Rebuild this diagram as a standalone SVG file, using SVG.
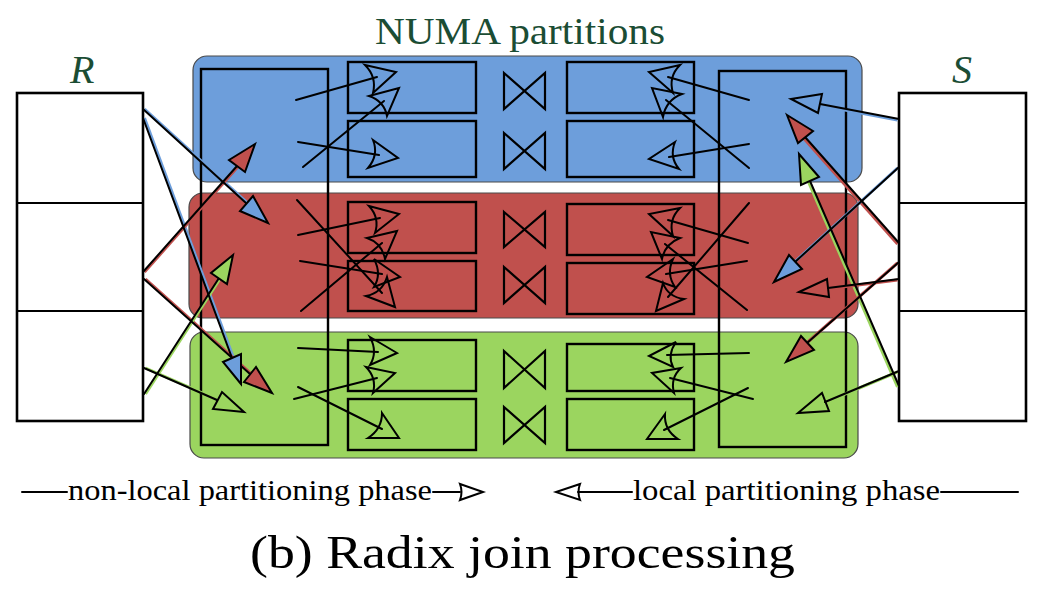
<svg xmlns="http://www.w3.org/2000/svg" width="1044" height="591" viewBox="0 0 1044 591">
<style>
.k{stroke:#000;stroke-width:2;fill:none;stroke-linecap:round}
.box{fill:none;stroke:#000;stroke-width:2.4}
.tbl{fill:#fff;stroke:#000;stroke-width:2.6}
.band{stroke:#4a4a4a;stroke-width:1.2}
.hd{stroke:#000;stroke-width:2;stroke-linejoin:miter;fill:none}
.bt{stroke:#000;stroke-width:2.2;fill:none;stroke-linejoin:miter}
.cb{stroke:#6d9edb;stroke-width:3;fill:none}
.cr{stroke:#c0504d;stroke-width:3;fill:none}
.cg{stroke:#9bd55f;stroke-width:3;fill:none}
.lbl{font-family:'Liberation Serif','Times New Roman',Times,serif;fill:#1b4d34}
.txt{font-family:'Liberation Serif','Times New Roman',Times,serif;fill:#000}
</style>

<g id="band-blue"><rect class="band" x="193" y="56" width="669" height="126" rx="14" fill="#6d9edb"/></g>
<g id="band-red"><rect class="band" x="189" y="193" width="669" height="125" rx="14" fill="#c0504d"/></g>
<g id="band-green"><rect class="band" x="190" y="332" width="668" height="126" rx="14" fill="#9bd55f"/></g>

<g id="partition-left"><rect class="box" x="201" y="69" width="127" height="376"/></g>
<g id="partition-right"><rect class="box" x="719" y="71" width="127" height="376"/></g>

<g id="buckets">
<rect class="box" x="348" y="62" width="128" height="51"/>
<rect class="box" x="348" y="121" width="128" height="56"/>
<rect class="box" x="567" y="62" width="127" height="51"/>
<rect class="box" x="567" y="121" width="127" height="56"/>
<rect class="box" x="348" y="202" width="128" height="51"/>
<rect class="box" x="348" y="261" width="128" height="50"/>
<rect class="box" x="567" y="204" width="127" height="51"/>
<rect class="box" x="567" y="263" width="127" height="51"/>
<rect class="box" x="348" y="340" width="128" height="51"/>
<rect class="box" x="348" y="399" width="128" height="51"/>
<rect class="box" x="567" y="344" width="127" height="47"/>
<rect class="box" x="567" y="399" width="127" height="51"/>
</g>

<g id="joins">
<path class="bt" d="M504,73 L545,109 L545,73 L504,109 Z"/>
<path class="bt" d="M504,133 L545,169 L545,133 L504,169 Z"/>
<path class="bt" d="M504,212 L545,247 L545,212 L504,247 Z"/>
<path class="bt" d="M504,267 L545,303 L545,267 L504,303 Z"/>
<path class="bt" d="M504,351 L545,388 L545,351 L504,388 Z"/>
<path class="bt" d="M504,407 L545,443 L545,407 L504,443 Z"/>
</g>

<g id="connectors">
<line class="k" x1="296" y1="100" x2="377" y2="77"/>
<path class="hd" d="M365,65 L396,72 L373,93 Q377,77 365,65 Z"/>
<line class="k" x1="303" y1="167" x2="384" y2="101"/>
<path class="hd" d="M369,96 L399,88 L387,116 Q384,101 369,96 Z"/>
<line class="k" x1="298" y1="142" x2="379" y2="155"/>
<path class="hd" d="M373,140 L398,158 L368,168 Q379,155 373,140 Z"/>
<line class="k" x1="749" y1="100" x2="668" y2="77"/>
<path class="hd" d="M680,65 L649,72 L673,93 Q668,77 680,65 Z"/>
<line class="k" x1="749" y1="168" x2="666" y2="100"/>
<path class="hd" d="M682,94 L652,88 L663,117 Q666,100 682,94 Z"/>
<line class="k" x1="749" y1="144" x2="669" y2="157"/>
<path class="hd" d="M675,142 L649,159 L679,169 Q669,157 675,142 Z"/>
<line class="k" x1="298" y1="235" x2="380" y2="218"/>
<path class="hd" d="M369,206 L399,214 L375,233 Q380,218 369,206 Z"/>
<line class="k" x1="301" y1="311" x2="382" y2="243"/>
<path class="hd" d="M367,238 L397,231 L385,259 Q382,243 367,238 Z"/>
<line class="k" x1="300" y1="261" x2="382" y2="274"/>
<path class="hd" d="M374,259 L400,277 L374,287 Q382,274 374,259 Z"/>
<line class="k" x1="297" y1="200" x2="382" y2="293"/>
<path class="hd" d="M387,277 L395,307 L366,296 Q382,293 387,277 Z"/>
<line class="k" x1="748" y1="243" x2="668" y2="220"/>
<path class="hd" d="M680,208 L649,214 L673,236 Q668,220 680,208 Z"/>
<line class="k" x1="747" y1="310" x2="665" y2="244"/>
<path class="hd" d="M680,238 L651,232 L662,259 Q665,244 680,238 Z"/>
<line class="k" x1="747" y1="261" x2="666" y2="274"/>
<path class="hd" d="M673,259 L647,277 L675,287 Q666,274 673,259 Z"/>
<line class="k" x1="749" y1="203" x2="668" y2="297"/>
<path class="hd" d="M684,299 L656,311 L663,283 Q668,297 684,299 Z"/>
<line class="k" x1="298" y1="348" x2="378" y2="352"/>
<path class="hd" d="M370,337 L397,353 L370,365 Q378,352 370,337 Z"/>
<line class="k" x1="294" y1="399" x2="377" y2="378"/>
<path class="hd" d="M366,367 L395,373 L373,393 Q377,378 366,367 Z"/>
<line class="k" x1="298" y1="387" x2="382" y2="429"/>
<path class="hd" d="M382,413 L399,438 L368,438 Q382,429 382,413 Z"/>
<line class="k" x1="749" y1="353" x2="667" y2="355"/>
<path class="hd" d="M676,342 L649,356 L673,367 Q667,355 676,342 Z"/>
<line class="k" x1="753" y1="399" x2="670" y2="378"/>
<path class="hd" d="M681,368 L652,373 L674,393 Q670,378 681,368 Z"/>
<line class="k" x1="748" y1="388" x2="664" y2="430"/>
<path class="hd" d="M665,414 L647,439 L678,439 Q664,430 665,414 Z"/>
</g>

<g id="table-R">
<rect class="tbl" x="17" y="93" width="126" height="328"/>
<line class="k" x1="17" y1="203" x2="143" y2="203" stroke-width="2.6"/>
<line class="k" x1="17" y1="311" x2="143" y2="311" stroke-width="2.6"/>
</g>
<g id="table-S">
<rect class="tbl" x="899" y="93" width="127" height="328"/>
<line class="k" x1="899" y1="203" x2="1026" y2="203" stroke-width="2.6"/>
<line class="k" x1="899" y1="311" x2="1026" y2="311" stroke-width="2.6"/>
</g>

<g id="connectors-nonlocal">
<g transform="translate(1.5,0)">
<line class="cb" x1="143" y1="109" x2="246" y2="203"/>
<line class="cb" x1="143" y1="118" x2="232" y2="358"/>
<line class="cr" x1="143" y1="272" x2="237" y2="166"/>
<line class="cr" x1="144" y1="279" x2="250" y2="374"/>
<line class="cg" x1="144" y1="394" x2="219" y2="278"/>
<line class="cg" x1="144" y1="368" x2="217" y2="400"/>
</g>
<line class="k" x1="143" y1="109" x2="246" y2="203"/>
<line class="k" x1="143" y1="118" x2="232" y2="358"/>
<line class="k" x1="143" y1="272" x2="237" y2="166"/>
<line class="k" x1="144" y1="279" x2="250" y2="374"/>
<line class="k" x1="144" y1="394" x2="219" y2="278"/>
<line class="k" x1="144" y1="368" x2="217" y2="400"/>
<path class="hd" style="fill:#6d9edb" d="M268,223 L240,211 L253,196 Z"/>
<path class="hd" style="fill:#6d9edb" d="M241,384 L223,362 L241,354 Z"/>
<path class="hd" style="fill:#c0504d" d="M255,144 L229,160 L245,172 Z"/>
<path class="hd" style="fill:#c0504d" d="M272,393 L244,382 L256,367 Z"/>
<path class="hd" style="fill:#9bd55f" d="M233,255 L211,273 L227,284 Z"/>
<path class="hd" d="M244,412 L213,409 L222,392 Z"/>

<g transform="translate(-1.5,1)">
<line class="cb" x1="899" y1="119" x2="820" y2="104"/>
<line class="cr" x1="899" y1="243" x2="805" y2="137"/>
<line class="cg" x1="899" y1="386" x2="810" y2="181"/>
<line class="cb" x1="899" y1="167" x2="795" y2="262"/>
<line class="cr" x1="899" y1="279" x2="828" y2="288"/>
<line class="cr" x1="899" y1="262" x2="807" y2="343"/>
<line class="cg" x1="899" y1="371" x2="825" y2="402"/>
</g>
<line class="k" x1="899" y1="119" x2="820" y2="104"/>
<line class="k" x1="899" y1="243" x2="805" y2="137"/>
<line class="k" x1="899" y1="386" x2="810" y2="181"/>
<line class="k" x1="899" y1="167" x2="795" y2="262"/>
<line class="k" x1="899" y1="279" x2="828" y2="288"/>
<line class="k" x1="899" y1="262" x2="807" y2="343"/>
<line class="k" x1="899" y1="371" x2="825" y2="402"/>
<path class="hd" d="M791,99 L822,94 L818,113 Z"/>
<path class="hd" style="fill:#c0504d" d="M787,115 L813,131 L798,143 Z"/>
<path class="hd" style="fill:#9bd55f" d="M799,154 L819,177 L801,185 Z"/>
<path class="hd" style="fill:#6d9edb" d="M774,282 L789,255 L802,269 Z"/>
<path class="hd" d="M799,292 L827,279 L829,297 Z"/>
<path class="hd" style="fill:#c0504d" d="M786,362 L801,336 L814,350 Z"/>
<path class="hd" d="M798,413 L822,393 L829,411 Z"/>
</g>

<g id="labels">
<text class="lbl" x="375" y="44" font-size="38" textLength="290" lengthAdjust="spacingAndGlyphs">NUMA partitions</text>
<text class="lbl" x="70" y="83" font-size="40" font-style="italic">R</text>
<text class="lbl" x="952" y="83" font-size="40" font-style="italic">S</text>
</g>

<g id="legend">
<line class="k" x1="22" y1="492" x2="67" y2="492" stroke-width="1.6"/>
<text class="txt" x="68" y="500" font-size="30" textLength="364" lengthAdjust="spacingAndGlyphs">non-local partitioning phase</text>
<line class="k" x1="433" y1="492" x2="460" y2="492" stroke-width="1.6"/>
<path class="hd" stroke-width="1.6" d="M460,484 L483,492 L460,500 Q463,492 460,484 Z"/>
<path class="hd" stroke-width="1.6" d="M580,484 L556,492 L580,500 Q577,492 580,484 Z"/>
<line class="k" x1="578" y1="492" x2="632" y2="492" stroke-width="1.6"/>
<text class="txt" x="633" y="500" font-size="30" textLength="307" lengthAdjust="spacingAndGlyphs">local partitioning phase</text>
<line class="k" x1="941" y1="492" x2="1018" y2="492" stroke-width="1.6"/>
</g>

<g id="caption">
<text class="txt" x="250" y="568" font-size="46" textLength="545" lengthAdjust="spacingAndGlyphs">(b) Radix join processing</text>
</g>
</svg>
